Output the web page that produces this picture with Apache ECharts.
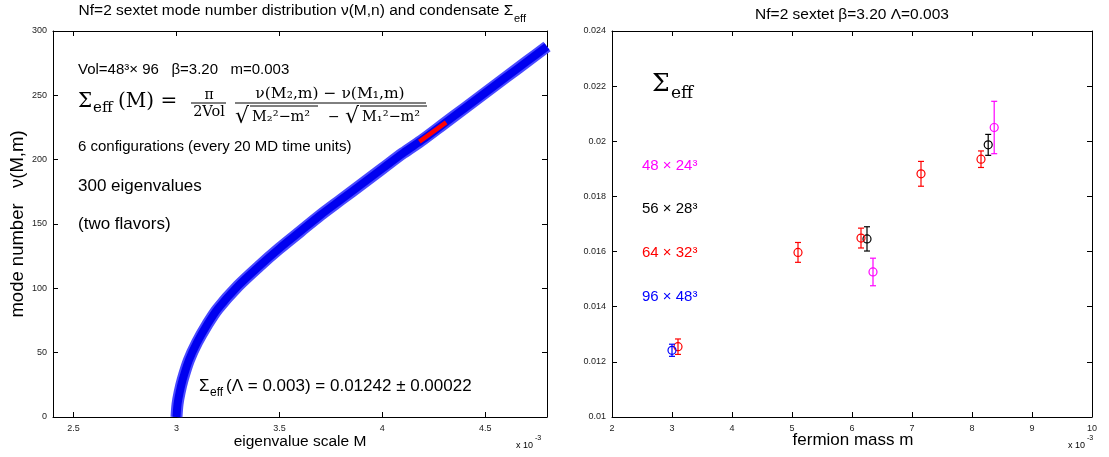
<!DOCTYPE html>
<html>
<head>
<meta charset="utf-8">
<script src="https://cdn.jsdelivr.net/npm/echarts@6/dist/echarts.min.js"></script>
<style>
  html, body { margin: 0; padding: 0; background: #fff; }
  #chart { width: 1109px; height: 457px; }
</style>
</head>
<body>
<div id="chart"></div>
<script>
// ---- left panel: mode number nu(M,m) vs eigenvalue scale M (x 10^-3)
const modeM = [3.0, 3.005, 3.015, 3.03, 3.06, 3.1, 3.15, 3.2, 3.3, 3.4, 3.5, 3.6, 3.7, 3.8, 3.9, 4.0, 4.1, 4.2, 4.3, 4.4, 4.5, 4.6, 4.7, 4.8]
const modeNu = [0, 10, 19, 29, 44, 58, 72, 84, 102, 117, 131, 144, 157, 169, 181, 193, 205, 216, 228, 240, 252, 264, 276, 288]
// fit window M1..M2 (red)
const fitM = [4.18, 4.31]
const fitNu = [214, 229]
const mTicks = [2.5, 3, 3.5, 4, 4.5]

// ---- right panel: Sigma_eff vs fermion mass m (x 10^-3)
const mass48 = [6.35, 8.37]
const sig48 = [0.01526, 0.0205]
const err48 = [0.0005, 0.00095]

const mass56 = [6.25, 8.27]
const sig56 = [0.01646, 0.01987]
const err56 = [0.00044, 0.00038]

const mass64 = [3.1, 5.1, 6.15, 7.15, 8.15]
const sig64 = [0.01255, 0.01597, 0.01649, 0.01882, 0.01935]
const err64 = [0.00028, 0.00036, 0.00036, 0.00045, 0.0003]

const mass96 = [3.0]
const sig96 = [0.01242]
const err96 = [0.00022]

const volNames = ['48 × 24³', '56 × 28³', '64 × 32³', '96 × 48³']

const SANS = '"Liberation Sans", Arial, Helvetica, sans-serif'
const SERIF = '"DejaVu Serif", "Liberation Serif", serif'

const myChart = echarts.init(document.getElementById('chart'))

function zip3 (a, b, c) {
  return a.map((v, i) => [v, b[i], c[i]])
}

// error bar + open circle, drawn through the axis scales
function errorBar (color) {
  return function (params, api) {
    const x = api.value(0)
    const y = api.value(1)
    const e = api.value(2)
    const c = api.coord([x, y])
    const hi = api.coord([x, y + e])
    const lo = api.coord([x, y - e])
    const cap = 3
    const st = { stroke: color, lineWidth: 1.2 }
    return {
      type: 'group',
      children: [
        { type: 'line', shape: { x1: c[0], y1: hi[1], x2: c[0], y2: lo[1] }, style: st },
        { type: 'line', shape: { x1: c[0] - cap, y1: hi[1], x2: c[0] + cap, y2: hi[1] }, style: st },
        { type: 'line', shape: { x1: c[0] - cap, y1: lo[1], x2: c[0] + cap, y2: lo[1] }, style: st },
        { type: 'circle', shape: { cx: c[0], cy: c[1], r: 4 }, style: { stroke: color, lineWidth: 1.2, fill: 'rgba(0,0,0,0)' } }
      ]
    }
  }
}

// graphic text helper
function txt (x, y, text, size, opts) {
  opts = opts || {}
  return {
    type: 'text',
    x: x,
    y: y,
    rotation: opts.rotation || 0,
    silent: true,
    style: {
      text: text,
      font: size + 'px ' + (opts.family || SANS),
      fill: opts.color || '#000',
      align: opts.align || 'left',
      verticalAlign: 'middle',
      textAlign: opts.align || 'left',
      textVerticalAlign: 'middle'
    }
  }
}
function hline (x1, x2, y) {
  return { type: 'line', silent: true, shape: { x1: x1, y1: y, x2: x2, y2: y }, style: { stroke: '#000', lineWidth: 1 } }
}

function axisBase (extra) {
  return Object.assign({
    type: 'value',
    axisLine: { show: true, onZero: false, lineStyle: { color: '#000', width: 1 } },
    axisTick: { show: true, inside: true, length: 5, lineStyle: { color: '#000' } },
    axisLabel: { show: true, color: '#222', fontSize: 9, fontFamily: SANS, margin: 6 },
    splitLine: { show: false }
  }, extra)
}
function mirror (ax, pos) {
  const m = JSON.parse(JSON.stringify(ax))
  m.position = pos
  m.axisLabel.show = false
  return m
}

const leftX = axisBase({
  gridIndex: 0, position: 'bottom', min: 2.4, max: 4.8,
  axisTick: { show: true, inside: true, length: 5, lineStyle: { color: '#000' }, customValues: mTicks },
  axisLabel: { show: true, color: '#222', fontSize: 9, fontFamily: SANS, margin: 7, customValues: mTicks }
})
const leftY = axisBase({ gridIndex: 0, position: 'left', min: 0, max: 300, interval: 50 })
const rightX = axisBase({ gridIndex: 1, position: 'bottom', min: 2, max: 10, interval: 1 })
rightX.axisLabel.margin = 7
const rightY = axisBase({ gridIndex: 1, position: 'left', min: 0.01, max: 0.024, interval: 0.002 })

const modeData = modeM.map((m, i) => [m, modeNu[i]])

const option = {
  animation: false,
  backgroundColor: '#fff',
  grid: [
    { left: 53, top: 31, width: 494, height: 386 },
    { left: 612, top: 31, width: 480, height: 386 }
  ],
  xAxis: [leftX, mirror(leftX, 'top'), rightX, mirror(rightX, 'top')],
  yAxis: [leftY, mirror(leftY, 'right'), rightY, mirror(rightY, 'right')],
  series: [
    {
      name: 'mode number (spread)',
      type: 'line',
      xAxisIndex: 0,
      yAxisIndex: 0,
      data: modeData,
      showSymbol: false,
      smooth: 0.3,
      lineStyle: { color: '#4a4aff', width: 12 },
      z: 2
    },
    {
      name: 'mode number',
      type: 'line',
      xAxisIndex: 0,
      yAxisIndex: 0,
      data: modeData,
      showSymbol: false,
      smooth: 0.3,
      lineStyle: { color: '#0000f0', width: 8 },
      z: 3
    },
    {
      name: 'fit window',
      type: 'line',
      xAxisIndex: 0,
      yAxisIndex: 0,
      data: fitM.map((m, i) => [m, fitNu[i]]),
      showSymbol: false,
      lineStyle: { color: '#ff0000', width: 4.5 },
      z: 4
    },
    { name: volNames[0], type: 'custom', xAxisIndex: 2, yAxisIndex: 2, renderItem: errorBar('#ff00ff'), encode: { x: 0, y: 1 }, data: zip3(mass48, sig48, err48) },
    { name: volNames[1], type: 'custom', xAxisIndex: 2, yAxisIndex: 2, renderItem: errorBar('#000000'), encode: { x: 0, y: 1 }, data: zip3(mass56, sig56, err56) },
    { name: volNames[2], type: 'custom', xAxisIndex: 2, yAxisIndex: 2, renderItem: errorBar('#ff0000'), encode: { x: 0, y: 1 }, data: zip3(mass64, sig64, err64) },
    { name: volNames[3], type: 'custom', xAxisIndex: 2, yAxisIndex: 2, renderItem: errorBar('#0000ff'), encode: { x: 0, y: 1 }, data: zip3(mass96, sig96, err96) }
  ],
  graphic: {
    elements: [
      // titles
      txt(296, 11, 'Nf=2 sextet mode number distribution ν(M,n) and condensate Σ', 15.5, { align: 'center' }),
      txt(514, 19, 'eff', 11),
      txt(852, 15, 'Nf=2 sextet β=3.20 Λ=0.003', 15.5, { align: 'center' }),
      // axis names
      txt(18, 224, 'mode number   ν(M,m)', 18.5, { align: 'center', rotation: Math.PI / 2 }),
      txt(300, 442, 'eigenvalue scale M', 15.5, { align: 'center' }),
      txt(853, 440, 'fermion mass m', 17, { align: 'center' }),
      txt(516, 446, 'x 10', 9),
      txt(535, 438, '-3', 7),
      txt(1068, 446, 'x 10', 9),
      txt(1087, 438, '-3', 7),
      // left annotations
      txt(78, 70, 'Vol=48³× 96   β=3.20   m=0.003', 15),
      // Sigma_eff(M) = pi/(2Vol) * (nu(M2,m)-nu(M1,m)) / (sqrt(M2^2-m^2) - sqrt(M1^2-m^2))
      txt(78, 102, 'Σ', 20, { family: SERIF }),
      txt(93, 108, 'eff', 15, { family: SERIF }),
      txt(118, 102, '(M) =', 20, { family: SERIF }),
      txt(209, 95, 'π', 14, { family: SERIF, align: 'center' }),
      hline(191, 226, 103),
      txt(209, 112, '2Vol', 14.5, { family: SERIF, align: 'center' }),
      txt(330, 94, 'ν(M₂,m) − ν(M₁,m)', 15.5, { family: SERIF, align: 'center' }),
      hline(235, 426, 103),
      txt(235, 117, '√', 22, { family: SERIF }),
      hline(250, 318, 106),
      txt(252, 117, 'M₂²−m²', 14.5, { family: SERIF }),
      txt(328, 117, '−', 14, { family: SERIF }),
      txt(345, 117, '√', 22, { family: SERIF }),
      hline(360, 427, 106),
      txt(362, 117, 'M₁²−m²', 14.5, { family: SERIF }),
      txt(78, 147, '6 configurations (every 20 MD time units)', 15),
      txt(78, 186, '300 eigenvalues', 17),
      txt(78, 224, '(two flavors)', 17),
      txt(199, 386, 'Σ', 17),
      txt(210, 393, 'eff', 12),
      txt(226, 386, '(Λ = 0.003) = 0.01242 ± 0.00022', 17),
      // right annotations
      txt(652, 84, 'Σ', 25, { family: SERIF }),
      txt(671, 94, 'eff', 17, { family: SERIF }),
      txt(642, 166, volNames[0], 15, { color: '#ff00ff' }),
      txt(642, 209, volNames[1], 15, { color: '#000000' }),
      txt(642, 253, volNames[2], 15, { color: '#ff0000' }),
      txt(642, 297, volNames[3], 15, { color: '#0000ff' })
    ]
  }
}

myChart.setOption(option)
</script>
</body>
</html>
